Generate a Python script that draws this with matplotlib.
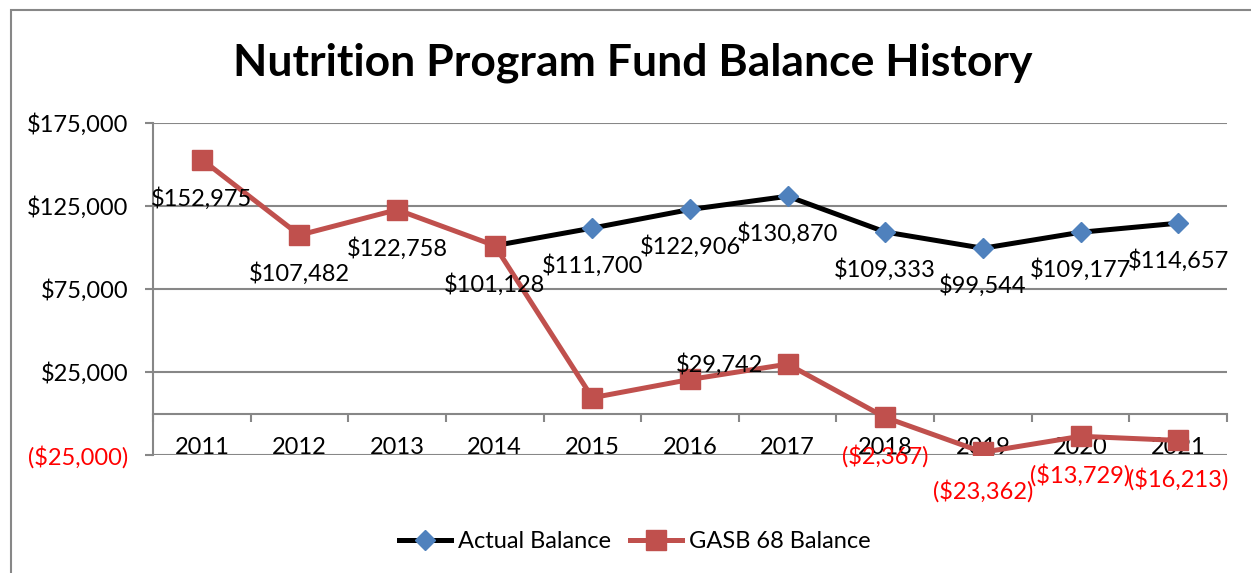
import matplotlib
matplotlib.use("Agg")
import matplotlib.pyplot as plt
from matplotlib.patches import Rectangle
import numpy as np

plt.rcParams['font.family'] = ['Lato', 'DejaVu Sans']

years = ["2011", "2012", "2013", "2014", "2015", "2016", "2017", "2018", "2019", "2020", "2021"]
# actual balance starts in 2014
actual = [np.nan, np.nan, np.nan, 101128, 111700, 122906, 130870, 109333, 99544, 109177, 114657]
gasb = [152975, 107482, 122758, 101128, 9500, 20500, 29742, -2367, -23362, -13729, -16213]
yticks = [-25000, 25000, 75000, 125000, 175000]

black = "#000000"
blue = "#4F81BD"
red = "#C0504D"
grid = "#878787"
fs = 17


def money(v):
    if v < 0:
        return "(${:,.0f})".format(-v)
    return "${:,.0f}".format(v)


fig = plt.figure(figsize=(12.51, 5.73), dpi=100)
W, H = 1251, 573
ax = fig.add_axes([153 / W, 1 - 455 / H, (1227 - 153) / W, (455 - 123) / H])

# category axis crosses at zero (set first, it resets the ticks)
ax.spines["bottom"].set_position(("data", 0))
ax.spines["bottom"].set_color(grid)
ax.spines["bottom"].set_linewidth(1.5)
ax.spines["left"].set_color(grid)
ax.spines["left"].set_linewidth(1.5)
ax.spines["top"].set_visible(False)
ax.spines["right"].set_visible(False)

x = np.arange(len(years))
ax.plot(x, actual, color=black, lw=3.6, marker="D", markersize=10,
        markerfacecolor=blue, markeredgecolor=blue, label="Actual Balance", zorder=3)
ax.plot(x, gasb, color=red, lw=3.6, marker="s", markersize=14,
        markerfacecolor=red, markeredgecolor=red, label="GASB 68 Balance", zorder=4)

ax.set_xlim(-0.5, len(years) - 0.5)
ax.set_ylim(yticks[0], yticks[-1])
ax.set_yticks(yticks)
ax.set_yticklabels([money(v) for v in yticks])
ax.yaxis.grid(True, color=grid, lw=1.5)
ax.set_axisbelow(True)
ax.tick_params(axis="y", length=6, width=1.5, color=grid, pad=12, labelsize=fs)
for lab, v in zip(ax.get_yticklabels(), yticks):
    lab.set_color("red" if v < 0 else "black")

ax.set_xticks(x)
ax.set_xticklabels(years)
ax.set_xticks(np.arange(len(years) + 1) - 0.5, minor=True)
ax.tick_params(axis="x", which="major", length=0, pad=17, labelsize=fs)
ax.tick_params(axis="x", which="minor", length=6, width=1.5, color=grid, direction="out")

# data labels
for i, v in enumerate(actual):
    if i >= 4:
        ax.annotate(money(v), (x[i], v), xytext=(0, -27), textcoords="offset points",
                    ha="center", va="center", fontsize=fs, color="black", zorder=5)
for i, v in enumerate(gasb):
    if i <= 3 or i >= 7:
        ax.annotate(money(v), (x[i], v), xytext=(0, -28), textcoords="offset points",
                    ha="center", va="center", fontsize=fs,
                    color="red" if v < 0 else "black", zorder=5)
    elif i == 6:
        ax.annotate(money(v), (x[i], v), xytext=(-18, 0), textcoords="offset points",
                    ha="right", va="center", fontsize=fs, color="black", zorder=5)

fig.text(633 / W, 1 - 63 / H, "Nutrition Program Fund Balance History",
         ha="center", va="center", fontsize=32, fontweight="bold")

fig.legend(loc="center", bbox_to_anchor=(635 / W, 1 - 542 / H), ncol=2, frameon=False,
           fontsize=fs, handlelength=2.2, handletextpad=0.3, columnspacing=0.8)

fig.patches.append(Rectangle((11 / W, -0.1), 2, 1.1 - 10 / H, transform=fig.transFigure,
                             fill=False, edgecolor=grid, lw=1.5))

plt.savefig("out.png", dpi=100)
